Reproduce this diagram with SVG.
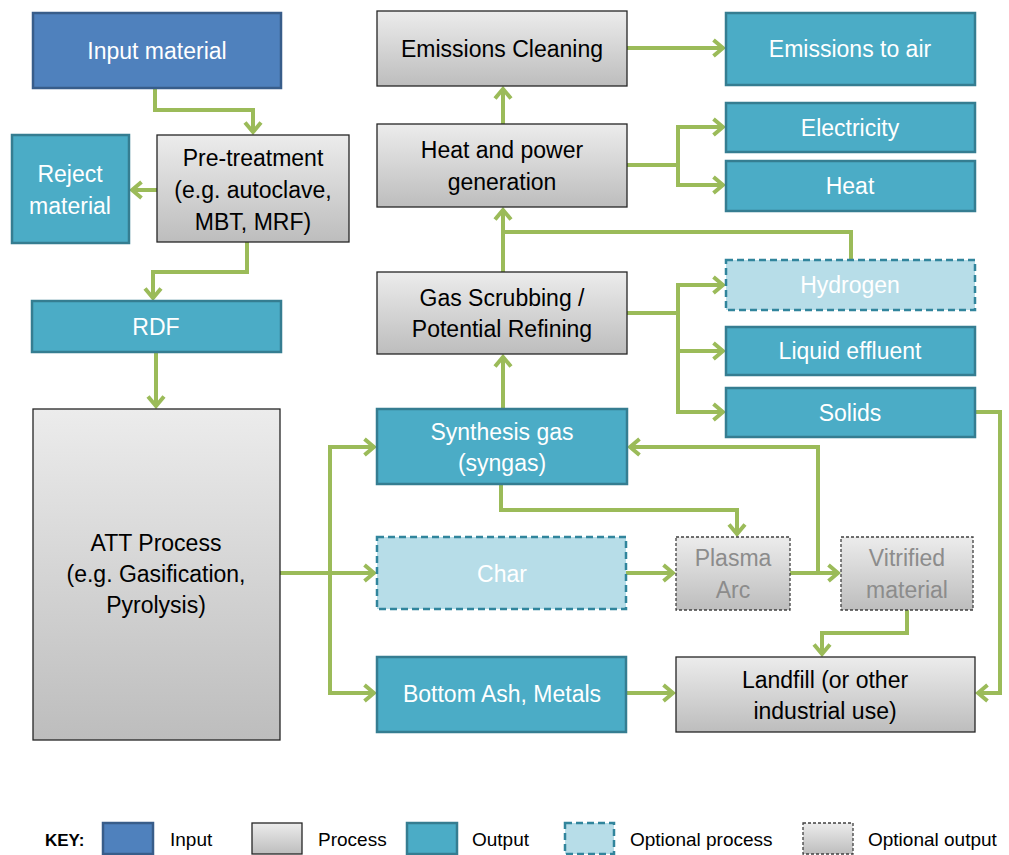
<svg xmlns="http://www.w3.org/2000/svg" width="1009" height="855" viewBox="0 0 1009 855">
<style>
text{font-family:"Liberation Sans",Arial,sans-serif;font-size:23px;text-anchor:middle}
.in{fill:#4f81bd;stroke:#385d8a;stroke-width:2.5}
.pr{fill:url(#g);stroke:#262626;stroke-width:1.3}
.out{fill:#4bacc6;stroke:#357d91;stroke-width:2.5}
.op{fill:#b7dde8;stroke:#31859c;stroke-width:2.5;stroke-dasharray:7 4}
.oo{fill:url(#g);stroke:#404040;stroke-width:1.3;stroke-dasharray:3 2}
.w{fill:#fff}.k{fill:#000}.gy{fill:#8c8c8c}
.c{fill:none;stroke:#9bbb59;stroke-width:4;stroke-linejoin:miter}
.a{marker-end:url(#ar)}
.key{font-size:19px;text-anchor:start}
</style>
<defs>
<linearGradient id="g" x1="0" y1="0" x2="0" y2="1"><stop offset="0" stop-color="#ececec"/><stop offset="1" stop-color="#bdbdbd"/></linearGradient>
<marker id="ar" markerWidth="14" markerHeight="20" refX="11" refY="10" orient="auto" markerUnits="userSpaceOnUse" viewBox="0 0 14 20">
<polyline points="1.5,2 11,10 1.5,18" fill="none" stroke="#9bbb59" stroke-width="4"/>
</marker>
</defs>
<g id="connectors">
<polyline class="c a" points="155,88 155,110 253,110 253,132"/>
<polyline class="c a" points="157,190 132,190"/>
<polyline class="c a" points="247,242 247,272 153,272 153,298"/>
<polyline class="c a" points="156,352 156,406"/>
<polyline class="c" points="280,573 330,573"/>
<polyline class="c a" points="330,573 330,447 374,447"/>
<polyline class="c a" points="330,573 374,573"/>
<polyline class="c a" points="330,573 330,693 374,693"/>
<polyline class="c a" points="503,409 503,357"/>
<polyline class="c a" points="501,484 501,510 737,510 737,534"/>
<polyline class="c a" points="626,573 673,573"/>
<polyline class="c a" points="790,573 838,573"/>
<polyline class="c a" points="818,573 818,447 630,447"/>
<polyline class="c a" points="907,610 907,633 822,633 822,654"/>
<polyline class="c a" points="975,412 1000,412 1000,693 978,693"/>
<polyline class="c a" points="626,693 673,693"/>
<polyline class="c" points="503,272 503,232"/>
<polyline class="c a" points="851,260 851,232 503,232 503,210"/>
<polyline class="c" points="627,313 678,313"/>
<polyline class="c a" points="678,313 678,285 723,285"/>
<polyline class="c a" points="678,313 678,351 723,351"/>
<polyline class="c a" points="678,313 678,412 723,412"/>
<polyline class="c a" points="503,124 503,89"/>
<polyline class="c a" points="627,48 723,48"/>
<polyline class="c" points="627,165 678,165"/>
<polyline class="c a" points="678,165 678,127 723,127"/>
<polyline class="c a" points="678,165 678,185 723,185"/>
</g>
<g id="input-material"><rect class="in" x="33" y="13" width="248" height="75"/><text class="w" x="157" y="59">Input material</text></g>
<g id="pre-treatment"><rect class="pr" x="157" y="135" width="192" height="107"/><text class="k" x="253" y="166">Pre-treatment</text><text class="k" x="253" y="198">(e.g. autoclave,</text><text class="k" x="253" y="230">MBT, MRF)</text></g>
<g id="reject-material"><rect class="out" x="12" y="135" width="117" height="108"/><text class="w" x="70" y="182">Reject</text><text class="w" x="70" y="214">material</text></g>
<g id="rdf"><rect class="out" x="32" y="301" width="249" height="51"/><text class="w" x="156" y="335">RDF</text></g>
<g id="att-process"><rect class="pr" x="33" y="409" width="247" height="331"/><text class="k" x="156" y="551">ATT Process</text><text class="k" x="156" y="582">(e.g. Gasification,</text><text class="k" x="156" y="613">Pyrolysis)</text></g>
<g id="emissions-cleaning"><rect class="pr" x="377" y="11" width="250" height="75"/><text class="k" x="502" y="57">Emissions Cleaning</text></g>
<g id="emissions-to-air"><rect class="out" x="726" y="13" width="249" height="72"/><text class="w" x="850" y="57">Emissions to air</text></g>
<g id="heat-power"><rect class="pr" x="377" y="124" width="250" height="83"/><text class="k" x="502" y="158">Heat and power</text><text class="k" x="502" y="190">generation</text></g>
<g id="electricity"><rect class="out" x="726" y="103" width="249" height="49"/><text class="w" x="850" y="136">Electricity</text></g>
<g id="heat"><rect class="out" x="726" y="161" width="249" height="50"/><text class="w" x="850" y="194">Heat</text></g>
<g id="gas-scrubbing"><rect class="pr" x="377" y="272" width="250" height="82"/><text class="k" x="502" y="306">Gas Scrubbing /</text><text class="k" x="502" y="337">Potential Refining</text></g>
<g id="hydrogen"><rect class="op" x="726" y="260" width="249" height="50"/><text class="w" x="850" y="293">Hydrogen</text></g>
<g id="liquid-effluent"><rect class="out" x="726" y="327" width="249" height="48"/><text class="w" x="850" y="359">Liquid effluent</text></g>
<g id="solids"><rect class="out" x="726" y="388" width="249" height="49"/><text class="w" x="850" y="421">Solids</text></g>
<g id="synthesis-gas"><rect class="out" x="377" y="409" width="250" height="75"/><text class="w" x="502" y="440">Synthesis gas</text><text class="w" x="502" y="471">(syngas)</text></g>
<g id="char"><rect class="op" x="377" y="537" width="249" height="72"/><text class="w" x="502" y="582">Char</text></g>
<g id="plasma-arc"><rect class="oo" x="676" y="537" width="114" height="73"/><text class="gy" x="733" y="566">Plasma</text><text class="gy" x="733" y="598">Arc</text></g>
<g id="vitrified-material"><rect class="oo" x="841" y="537" width="132" height="73"/><text class="gy" x="907" y="566">Vitrified</text><text class="gy" x="907" y="598">material</text></g>
<g id="bottom-ash"><rect class="out" x="377" y="657" width="249" height="75"/><text class="w" x="502" y="702">Bottom Ash, Metals</text></g>
<g id="landfill"><rect class="pr" x="676" y="657" width="299" height="75"/><text class="k" x="825" y="688">Landfill (or other</text><text class="k" x="825" y="719">industrial use)</text></g>
<g id="key">
<text class="key" x="45" y="846" style="font-weight:bold;font-size:17px">KEY:</text>
<rect class="in" x="103" y="823" width="50" height="31"/><text class="key" x="170" y="846">Input</text>
<rect class="pr" x="252" y="823" width="50" height="31"/><text class="key" x="318" y="846">Process</text>
<rect class="out" x="407" y="823" width="50" height="31"/><text class="key" x="472" y="846">Output</text>
<rect class="op" x="565" y="823" width="49" height="31"/><text class="key" x="630" y="846">Optional  process</text>
<rect class="oo" x="803" y="823" width="50" height="31"/><text class="key" x="868" y="846">Optional output</text>
</g>
</svg>
